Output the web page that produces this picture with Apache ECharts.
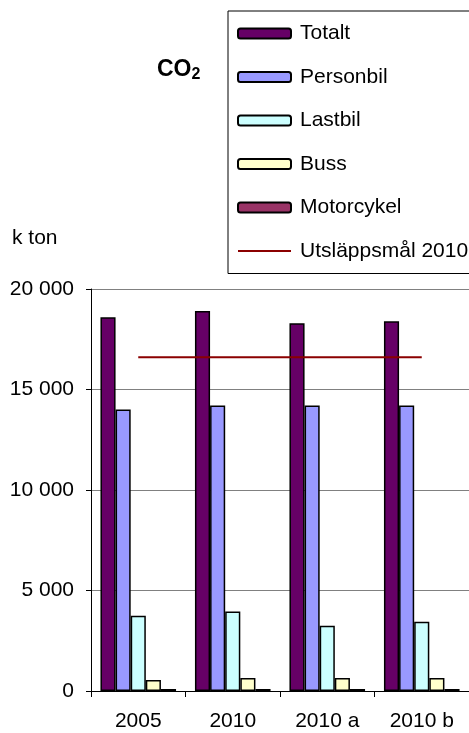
<!DOCTYPE html>
<html>
<head>
<meta charset="utf-8">
<script src="https://cdn.jsdelivr.net/npm/echarts@6/dist/echarts.min.js"></script>
<style>
  html, body { margin: 0; padding: 0; background: #fff; }
  #chart { width: 469px; height: 733px; }
</style>
</head>
<body>
<div id="chart"></div>
<script>
// Scenarios on the category axis
const categories = ['2005', '2010', '2010 a', '2010 b'];

// CO2 emissions per vehicle type, k ton
const totalt     = [18600, 18900, 18300, 18400];
const personbil  = [14000, 14200, 14200, 14200];
const lastbil    = [3750, 3950, 3250, 3450];
const buss       = [550, 650, 650, 650];
const motorcykel = [100, 100, 100, 100];

// 2010 emission target, k ton
const utslappsmal = [16600, 16600, 16600, 16600];

const FONT = '"Liberation Sans", Arial, sans-serif';

function thousands(v) {
  return String(v).replace(/\B(?=(\d{3})+(?!\d))/g, ' ');
}

function barSeries(name, data, color) {
  return {
    name: name,
    type: 'bar',
    data: data,
    barGap: '0%',
    barCategoryGap: '20%',
    itemStyle: { color: color, borderColor: '#000', borderWidth: 1.5 }
  };
}

const chart = echarts.init(document.getElementById('chart'), null, { renderer: 'canvas' });

chart.setOption({
  backgroundColor: '#fff',
  animation: false,
  textStyle: { fontFamily: FONT },
  title: {
    text: 'CO{sub|2}',
    left: 152,
    top: 51,
    textStyle: {
      fontFamily: FONT,
      fontSize: 23,
      fontWeight: 'bold',
      color: '#000',
      rich: {
        sub: { fontFamily: FONT, fontSize: 16, fontWeight: 'bold', color: '#000', verticalAlign: 'bottom', padding: [11, 0, 0, 0] }
      }
    }
  },
  graphic: [{
    type: 'text',
    left: 12,
    top: 228,
    style: { text: 'k ton', font: '21px ' + FONT, fill: '#000' }
  }],
  legend: {
    orient: 'vertical',
    left: 228,
    top: 11,
    padding: [12, 30, 12, 9],
    itemWidth: 53,
    itemHeight: 10,
    itemGap: 22.5,
    borderColor: '#000',
    borderWidth: 1,
    backgroundColor: '#fff',
    textStyle: { fontFamily: FONT, fontSize: 21, color: '#000', lineHeight: 21, padding: [0, 0, 0, 4] },
    data: [
      'Totalt', 'Personbil', 'Lastbil', 'Buss', 'Motorcykel',
      {
        name: 'Utsläppsmål 2010',
        itemStyle: { color: 'rgba(0,0,0,0)', borderColor: 'rgba(0,0,0,0)', borderWidth: 0 }
      }
    ]
  },
  grid: { left: 91, right: -3, top: 289, bottom: 42, containLabel: false },
  xAxis: {
    type: 'category',
    data: categories,
    boundaryGap: true,
    axisLine: { lineStyle: { color: '#000', width: 1 } },
    axisTick: { show: true, length: 6, interval: 0, lineStyle: { color: '#000' } },
    axisLabel: { fontFamily: FONT, fontSize: 21, color: '#000', margin: 20 }
  },
  yAxis: {
    type: 'value',
    min: 0,
    max: 20000,
    interval: 5000,
    axisLine: { show: true, lineStyle: { color: '#000', width: 1 } },
    axisTick: { show: true, length: 5, lineStyle: { color: '#000' } },
    axisLabel: { fontFamily: FONT, fontSize: 21, color: '#000', margin: 17, formatter: thousands },
    splitLine: { show: true, lineStyle: { color: '#808080', width: 1 } }
  },
  series: [
    barSeries('Totalt', totalt, '#660066'),
    barSeries('Personbil', personbil, '#9999ff'),
    barSeries('Lastbil', lastbil, '#ccffff'),
    barSeries('Buss', buss, '#ffffcc'),
    barSeries('Motorcykel', motorcykel, '#993366'),
    {
      name: 'Utsläppsmål 2010',
      type: 'line',
      data: utslappsmal,
      symbol: 'none',
      z: 5,
      lineStyle: { color: '#8b0000', width: 2 },
      itemStyle: { color: '#8b0000' }
    }
  ]
});
</script>
</body>
</html>
